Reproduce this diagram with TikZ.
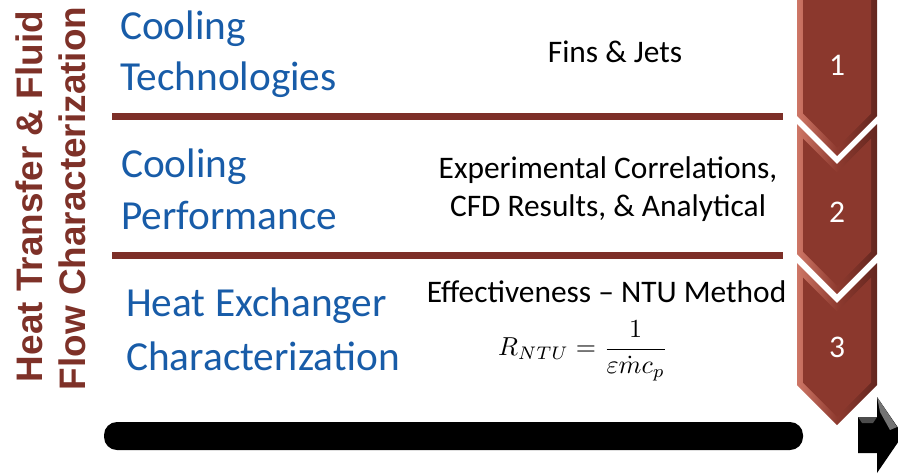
\documentclass[tikz,border=0pt]{standalone}
\usepackage[no-math]{fontspec}
\setmainfont{Carlito}
\newfontfamily\headfont{Liberation Sans}
\usetikzlibrary{calc}

\definecolor{rule}{RGB}{125,47,40}
\definecolor{headbrown}{RGB}{126,49,40}
\definecolor{titleblue}{RGB}{24,92,168}
\definecolor{chevlight}{RGB}{206,118,102}
\definecolor{chevmid}{RGB}{142,58,47}
\definecolor{chevdark}{RGB}{100,38,31}
\definecolor{chevface}{RGB}{139,56,45}

% one step of the chevron column: top side height #1, bottom side height #2
\newcommand\chevstep[2]{%
  \shade[left color=chevlight, right color=chevdark, middle color=chevmid]
    (797,#1) -- (837,#1+40) -- (877,#1) -- (877,#2) -- (837,#2+40) -- (797,#2) -- cycle;
  \fill[chevface]
    (803,#1+14.5) -- (837,#1+48.5) -- (871,#1+14.5) -- (871,#2-2.5) -- (837,#2+31.5) -- (803,#2-2.5) -- cycle;
}

\begin{document}
\begin{tikzpicture}[x=1pt, y=-1pt,
  title/.style={anchor=base west, inner sep=0pt, text=titleblue, font=\fontsize{41.3}{50}\selectfont},
  note/.style={anchor=base, inner sep=0pt, text=black, font=\fontsize{31.4}{38}\selectfont},
  stepnum/.style={anchor=base, inner sep=0pt, text=white, font=\fontsize{31.5}{38}\selectfont},
  sidehead/.style={anchor=base, rotate=90, inner sep=0pt, text=headbrown, font=\headfont\bfseries\fontsize{36.9}{44}\selectfont},
  sepline/.style={fill=rule}
]
\useasboundingbox (0,0) rectangle (898,475);

% vertical heading
\node[sidehead] (head1) at (42,196.5) {Heat Transfer \& Fluid};
\node[sidehead] (head2) at (85,198.5) {Flow Characterization};

% separators between the rows
\fill[sepline] (112,113) rectangle (783,120);
\fill[sepline] (112,252) rectangle (783,259);

% row titles
\node[title] (t1a) at (120,39) {Cooling};
\node[title] (t1b) at (120,90) {Technologies};
\node[title] (t2a) at (121,177) {Cooling};
\node[title] (t2b) at (121,229) {Performance};
\node[title] (t3a) at (126,316) {Heat Exchanger};
\node[title] (t3b) at (126,370) {Characterization};

% row contents
\node[note] (n1) at (615,62) {Fins \& Jets};
\node[note] (n2a) at (608,178) {Experimental Correlations,};
\node[note] (n2b) at (608,216) {CFD Results, \& Analytical};
\node[note] (n3) at (606.5,302) {Effectiveness – NTU Method};
\node[inner sep=0pt] (eq) at (583,351)
  {\scalebox{2.6}{$\displaystyle R_{NTU}=\frac{1}{\varepsilon\dot{m}c_p}$}};

% chevron column
\shade[left color=chevlight, right color=chevdark, middle color=chevmid]
  (797,-2) -- (877,-2) -- (877,116) -- (837,156) -- (797,116) -- cycle;
\fill[chevface] (803,-2) -- (871,-2) -- (871,113.5) -- (837,147.5) -- (803,113.5) -- cycle;
\chevstep{124}{254}
\chevstep{263}{385}

\node[stepnum] (s1) at (837,75) {1};
\node[stepnum] (s2) at (837,222) {2};
\node[stepnum] (s3) at (837,357) {3};

% timeline bar and arrow
\fill[black, rounded corners=13] (104,422) rectangle (803,450);
\fill[black] (858,417) -- (877,417) -- (877,397) -- (903,435) -- (877,473) -- (877,453) -- (858,453) -- cycle;
\fill[black!70] (858,417) -- (877,417) -- (873,423) -- (862,423) -- cycle;
\fill[black!55] (877,397) -- (897,427) -- (890,430) -- (880,412) -- cycle;
\end{tikzpicture}
\end{document}
